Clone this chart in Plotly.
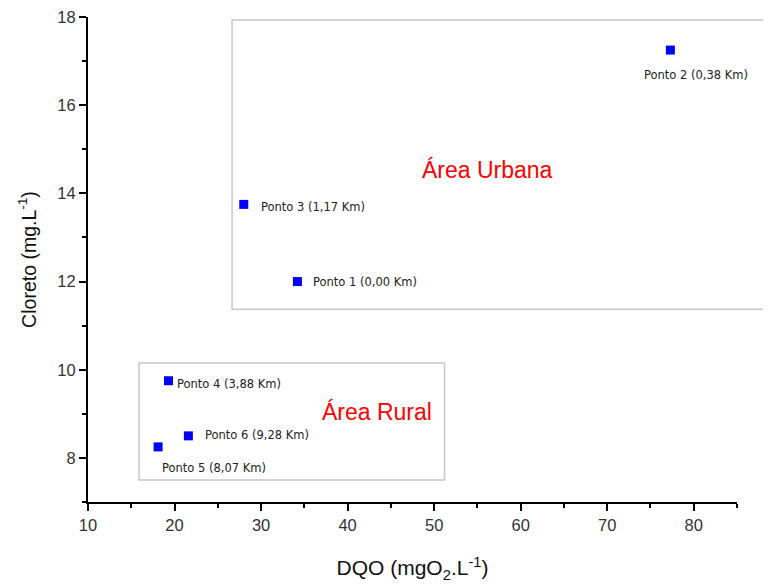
import plotly.graph_objects as go

dqo = [34.2, 77.3, 28.0, 19.3, 18.1, 21.6]
cloreto = [12.0, 17.25, 13.75, 9.75, 8.25, 8.5]
labels = ["Ponto 1 (0,00 Km)", "Ponto 2 (0,38 Km)", "Ponto 3 (1,17 Km)",
          "Ponto 4 (3,88 Km)", "Ponto 5 (8,07 Km)", "Ponto 6 (9,28 Km)"]
x_ticks = [10, 20, 30, 40, 50, 60, 70, 80]
y_ticks = [8, 10, 12, 14, 16, 18]

# label offsets (pixels) relative to each point
shifts = [(14, 0), (-28, -25), (15, -3), (7, -3), (2, -21), (15, 1)]

FONT = "Liberation Sans, Arial, sans-serif"
LFONT = "DejaVu Sans, sans-serif"

fig = go.Figure()
fig.add_trace(go.Scatter(
    x=dqo, y=cloreto, mode="markers",
    marker=dict(symbol="square", size=9, color="#0000ff"),
    showlegend=False, cliponaxis=False,
))

for xv, yv, lab, (dx, dy) in zip(dqo, cloreto, labels, shifts):
    fig.add_annotation(x=xv, y=yv, text=lab, showarrow=False,
                       xanchor="left", yanchor="middle", xshift=dx, yshift=dy,
                       font=dict(family=LFONT, size=11.5, color="#222222"))

fig.add_annotation(x=56.2, y=14.54, text="Área Urbana", showarrow=False,
                   font=dict(family=FONT, size=23, color="#ff0000"))
fig.add_annotation(x=43.4, y=9.04, text="Área Rural", showarrow=False,
                   font=dict(family=FONT, size=23, color="#ff0000"))

# boxes
fig.add_shape(type="rect", xref="paper", yref="y", x0=0.222, x1=1.051,
              y0=11.37, y1=17.93, line=dict(color="#c8c8c8", width=1.5))
fig.add_shape(type="rect", xref="x", yref="y", x0=15.9, x1=51.2,
              y0=7.5, y1=10.15, line=dict(color="#c8c8c8", width=1.5))

axis_common = dict(
    showline=True, linecolor="black", linewidth=2,
    ticks="outside", ticklen=7, tickwidth=2, tickcolor="black",
    showgrid=False, zeroline=False, automargin=False,
    ticklabeloverflow="allow",
    tickfont=dict(family=FONT, size=16.5, color="#333333"),
    minor=dict(ticks="outside", ticklen=4, tickwidth=2, tickcolor="black", showgrid=False),
)

fig.update_xaxes(range=[10, 85], tickvals=x_ticks, minor_dtick=5,
                 title=dict(text="DQO (mgO<sub>2</sub>.L<sup>-1</sup>)",
                            font=dict(family=FONT, size=21, color="#111111"), standoff=28),
                 **axis_common)
fig.update_yaxes(range=[7, 18], tickvals=y_ticks, minor_dtick=1,
                 title=dict(text="Cloreto (mg.L<sup>-1</sup>)",
                            font=dict(family=FONT, size=19.5, color="#111111"), standoff=16),
                 **axis_common)

fig.update_layout(
    width=771, height=585,
    margin=dict(l=80, r=42, t=9, b=91),
    plot_bgcolor="white", paper_bgcolor="white",
)

fig.write_html("out.html")
